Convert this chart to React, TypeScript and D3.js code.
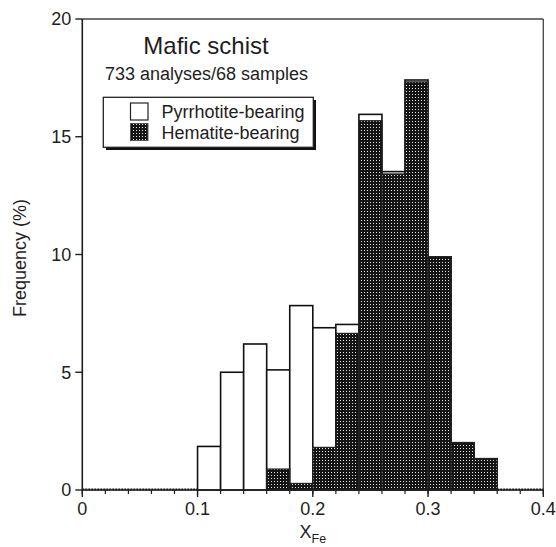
import React from "react";
import * as d3 from "d3";

// Histogram bins of X_Fe (lower edge), width 0.02
const binStarts = [0, 0.02, 0.04, 0.06, 0.08, 0.10, 0.12, 0.14, 0.16, 0.18, 0.20, 0.22, 0.24, 0.26, 0.28, 0.30, 0.32, 0.34, 0.36, 0.38];
// Total frequency (%) per bin, all samples
const totalFreq = [0, 0, 0, 0, 0, 1.85, 5.0, 6.2, 5.1, 7.83, 6.89, 7.03, 15.95, 13.52, 17.41, 9.9, 2.01, 1.33, 0, 0];
// Portion of each bin from hematite-bearing samples
const hematiteFreq = [0, 0, 0, 0, 0, 0, 0, 0, 0.89, 0.28, 1.81, 6.65, 15.68, 13.42, 17.33, 9.9, 2.01, 1.33, 0, 0];

const xTicks = [0, 0.1, 0.2, 0.3, 0.4];
const xMinorTicks = d3.range(0, 0.4001, 0.02);
const yTicks = [0, 5, 10, 15, 20];
const binWidth = 0.02;

const FONT = "'Liberation Sans', Arial, Helvetica, sans-serif";
const INK = "#1e1e1e";

export default function App() {
  const width = 556;
  const height = 547;
  const left = 82.3;
  const right = 543.3;
  const top = 19;
  const bottom = 490;

  const x = d3.scaleLinear().domain([0, 0.4]).range([left, right]);
  const y = d3.scaleLinear().domain([0, 20]).range([bottom, top]);

  return (
    <svg
      width={width}
      height={height}
      style={{ position: "absolute", left: 0, top: 0, background: "#fff" }}
      fontFamily={FONT}
    >
      <defs>
        <pattern id="stipple" patternUnits="userSpaceOnUse" width={3} height={3}>
          <rect x={0} y={0} width={3} height={3} fill="#141414" />
          <rect x={1} y={1} width={1} height={1} fill="#e2e2e2" />
        </pattern>
      </defs>

      {/* frame: top and right edges */}
      <line x1={left} x2={right} y1={top} y2={top} stroke="#444" strokeWidth={1.3} />
      <line x1={right} x2={right} y1={top} y2={bottom} stroke="#444" strokeWidth={1.3} />

      {/* total bars (pyrrhotite part shows as white) */}
      {binStarts.map((b, i) =>
        totalFreq[i] > 0 ? (
          <rect
            key={"t" + i}
            x={x(b)}
            y={y(totalFreq[i])}
            width={x(b + binWidth) - x(b)}
            height={y(0) - y(totalFreq[i])}
            fill="#fff"
            stroke="#111"
            strokeWidth={1.6}
          />
        ) : null
      )}
      {/* hematite-bearing portion */}
      {binStarts.map((b, i) =>
        hematiteFreq[i] > 0 ? (
          <rect
            key={"h" + i}
            x={x(b)}
            y={y(hematiteFreq[i])}
            width={x(b + binWidth) - x(b)}
            height={y(0) - y(hematiteFreq[i])}
            fill="url(#stipple)"
            stroke="#222"
            strokeWidth={1.2}
          />
        ) : null
      )}
      {/* empty bins along the baseline */}
      <line x1={left} x2={x(0.1)} y1={bottom - 0.5} y2={bottom - 0.5} stroke="#111" strokeWidth={2} strokeDasharray="2 1" />
      <line x1={x(0.36)} x2={right} y1={bottom - 0.5} y2={bottom - 0.5} stroke="#111" strokeWidth={2} strokeDasharray="2 1" />

      {/* y axis */}
      <line x1={left} x2={left} y1={top} y2={bottom} stroke={INK} strokeWidth={1.6} />
      {yTicks.map((t) => (
        <g key={"y" + t}>
          <line x1={left - 7} x2={left} y1={y(t)} y2={y(t)} stroke={INK} strokeWidth={1.4} />
          <text x={left - 11} y={y(t)} dy="0.35em" textAnchor="end" fontSize={18} fill={INK}>
            {t}
          </text>
        </g>
      ))}

      {/* x axis */}
      <line x1={left} x2={right} y1={bottom} y2={bottom} stroke={INK} strokeWidth={1.6} />
      {xMinorTicks.map((t, i) => (
        <line key={"m" + i} x1={x(t)} x2={x(t)} y1={bottom} y2={bottom + 4} stroke={INK} strokeWidth={1.2} />
      ))}
      {xTicks.map((t) => (
        <g key={"x" + t}>
          <line x1={x(t)} x2={x(t)} y1={bottom} y2={bottom + 7} stroke={INK} strokeWidth={1.4} />
          <text x={x(t)} y={bottom + 25} textAnchor="middle" fontSize={18} fill={INK}>
            {t === 0 ? "0" : d3.format(".1f")(t)}
          </text>
        </g>
      ))}

      {/* axis titles */}
      <text
        transform={`translate(26, 258) rotate(-90)`}
        textAnchor="middle"
        fontSize={18}
        fill={INK}
      >
        Frequency (%)
      </text>
      <text x={x(0.2)} y={538} textAnchor="middle" fontSize={18} fill={INK}>
        X<tspan fontSize={12.5} dy={5}>Fe</tspan>
      </text>

      {/* heading */}
      <text x={206} y={54} textAnchor="middle" fontSize={24} fill={INK}>
        Mafic schist
      </text>
      <text x={206.5} y={80} textAnchor="middle" fontSize={18} fill={INK}>
        733 analyses/68 samples
      </text>

      {/* legend */}
      <rect x={106} y={100} width={210} height={50} fill="#111" />
      <rect x={103.3} y={97.3} width={210} height={50} fill="#fff" stroke="#222" strokeWidth={1.3} />
      <rect x={130.5} y={103} width={17.5} height={17} fill="#fff" stroke="#222" strokeWidth={1.2} />
      <rect x={130.5} y={123.5} width={17.5} height={17} fill="url(#stipple)" stroke="#555" strokeWidth={1} />
      <text x={161.5} y={118} fontSize={18} fill={INK}>
        Pyrrhotite-bearing
      </text>
      <text x={161.5} y={139} fontSize={18} fill={INK}>
        Hematite-bearing
      </text>
    </svg>
  );
}
